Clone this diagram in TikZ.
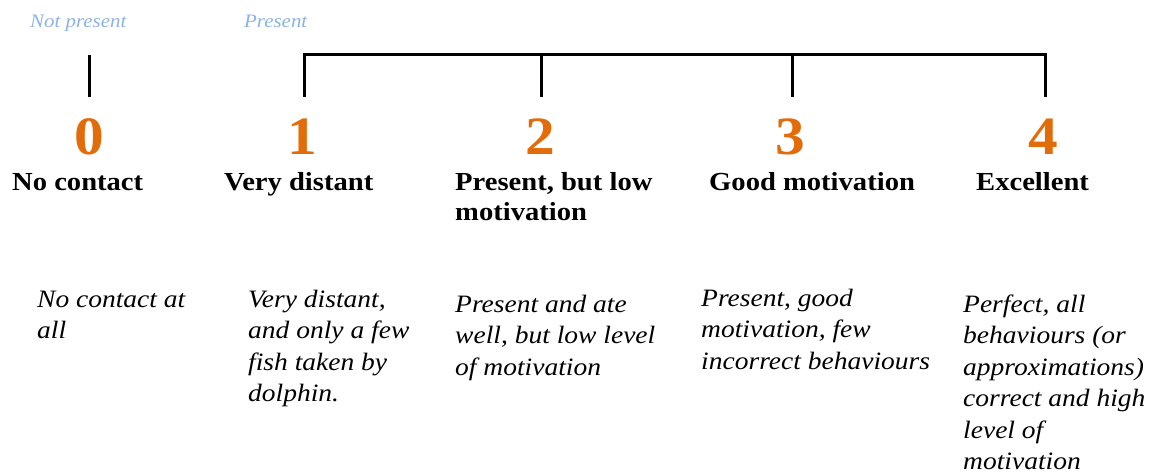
\documentclass[tikz,border=0pt]{standalone}
\usepackage{fontspec}
\setmainfont{Liberation Serif}[FakeStretch=1.1]
\usetikzlibrary{calc}
\definecolor{scoreOrange}{HTML}{E36C0A}
\definecolor{presBlue}{HTML}{8DB3E2}

\begin{document}
\begin{tikzpicture}[x=1pt,y=-1pt]
	\tikzset{
		scoreNum/.style={anchor=base, inner sep=0pt, text=scoreOrange, font=\bfseries\fontsize{54}{54}\selectfont},
		scoreName/.style={anchor=base west, inner sep=0pt, align=left, font=\bfseries\fontsize{26}{30}\selectfont},
		scoreText/.style={anchor=base west, inner sep=0pt, align=left, font=\itshape\fontsize{25}{31.5}\selectfont},
		presText/.style={anchor=base west, inner sep=0pt, text=presBlue, font=\itshape\fontsize{19}{19}\selectfont},
		tickLine/.style={line width=3pt}
	}
	\useasboundingbox (0,0) rectangle (1155,473);
	
	\pgfmathsetmacro\tickTop{55}
	\pgfmathsetmacro\tickBottom{97}
	\pgfmathsetmacro\lineSkip{31.5} % base anchor sits on the last line
	
	% not present / present
	\node (notPres) [presText] at (30,28) {Not present};
	\node (pres) [presText] at (244,28) {Present};
	
	% ticks
	\foreach \nr/\xpos in {0/89, 1/304, 2/541, 3/792, 4/1045}{
		\coordinate (top\nr) at (\xpos,\tickTop);
		\coordinate (bot\nr) at (\xpos,\tickBottom);
	}
	\draw[tickLine] (top0) -- (bot0);
	\draw[tickLine] (bot1) -- (top1) -- (top4) -- (bot4);
	\draw[tickLine] (top2) -- (bot2);
	\draw[tickLine] (top3) -- (bot3);
	
	% score numbers
	\foreach \nr/\xpos in {0/89, 1/302, 2/540, 3/790, 4/1043}{
		\node (num\nr) [scoreNum] at (\xpos,154) {\nr};
	}
	
	% score names
	\node (name0) [scoreName] at (12,190) {No contact};
	\node (name1) [scoreName] at (224,190) {Very distant};
	\node (name2) [scoreName] at (455,220) {Present, but low\\motivation};
	\node (name3) [scoreName] at (709,190) {Good motivation};
	\node (name4) [scoreName] at (976,190) {Excellent};
	
	% descriptions
	\node (desc0) [scoreText] at (37,{307 + \lineSkip}) {No contact at\\all};
	\node (desc1) [scoreText] at (248,{307 + 3*\lineSkip}) {Very distant,\\and only a few\\fish taken by\\dolphin.};
	\node (desc2) [scoreText] at (455,{312 + 2*\lineSkip}) {Present and ate\\well, but low level\\of motivation};
	\node (desc3) [scoreText] at (701,{306 + 2*\lineSkip}) {Present, good\\motivation, few\\incorrect behaviours};
	\node (desc4) [scoreText] at (963,{312 + 5*\lineSkip}) {Perfect, all\\behaviours (or\\approximations)\\correct and high\\level of\\motivation};
\end{tikzpicture}
\end{document}
